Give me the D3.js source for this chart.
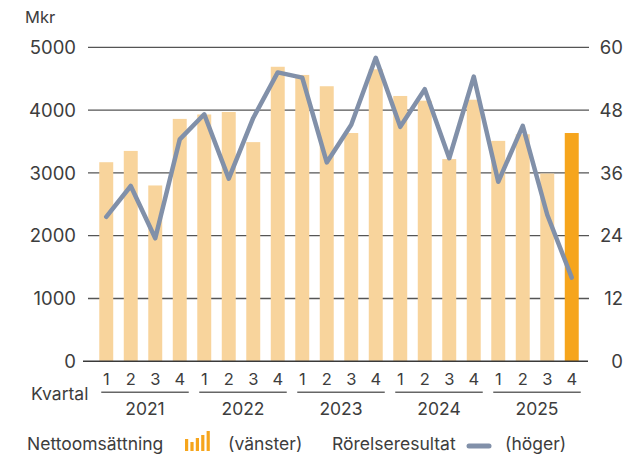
<!DOCTYPE html>
<html>
<head>
<meta charset="utf-8">
<script src="https://cdn.jsdelivr.net/npm/d3@7"></script>
<style>
  body { margin: 0; background: #fff; }
  text { font-family: Inter, "Open Sans", sans-serif; fill: #3d3d3d; }
</style>
</head>
<body>
<svg width="642" height="456"></svg>
<script>
// quarters 2021 Q1 .. 2025 Q4
const years = ["2021", "2022", "2023", "2024", "2025"];
const quarters = ["1", "2", "3", "4"];
// Nettoomsättning, Mkr (left axis)
const netSales = [3170, 3350, 2800, 3860, 3930, 3970, 3490, 4690, 4560, 4380,
                  3635, 4650, 4225, 4150, 3220, 4165, 3510, 3615, 2990, 3635];
// Rörelseresultat (right axis)
const opResult = [27.6, 33.5, 23.5, 42.4, 47.2, 34.9, 46.5, 55.2, 54.2, 38.0,
                  45.2, 58.0, 44.8, 52.0, 38.8, 54.4, 34.3, 45.0, 28.0, 16.0];
const leftTicks = [0, 1000, 2000, 3000, 4000, 5000];
const rightTicks = [0, 12, 24, 36, 48, 60];

const periods = [];
years.forEach(y => quarters.forEach(q => periods.push(y + "-" + q)));

const svg = d3.select("svg");

const x = d3.scaleBand().domain(periods).range([94, 584])
  .paddingInner(0.43).paddingOuter(0.215);
const yL = d3.scaleLinear().domain([0, 5000]).range([361.3, 47.3]);
const yR = d3.scaleLinear().domain([0, 60]).range([361.3, 47.3]);

// grid lines
svg.append("g").selectAll("line")
  .data(leftTicks.filter(d => d > 0))
  .enter().append("line")
  .attr("x1", 88).attr("x2", 589)
  .attr("y1", d => yL(d)).attr("y2", d => yL(d))
  .attr("stroke", "#555").attr("stroke-width", 1.3);

// left axis labels
svg.append("g").selectAll("text")
  .data(leftTicks).enter().append("text")
  .attr("x", 76).attr("y", d => yL(d))
  .attr("dy", "0.36em")
  .attr("text-anchor", "end")
  .style("font-size", "18.5px")
  .text(d => d);

// right axis labels
svg.append("g").selectAll("text")
  .data(rightTicks).enter().append("text")
  .attr("x", 623).attr("y", d => yR(d))
  .attr("dy", "0.36em")
  .attr("text-anchor", "end")
  .style("font-size", "18.5px")
  .text(d => d);

svg.append("text").attr("x", 25).attr("y", 23)
  .style("font-size", "16.5px").text("Mkr");

// bars
svg.append("g").selectAll("rect")
  .data(netSales).enter().append("rect")
  .attr("x", (d, i) => x(periods[i]))
  .attr("width", x.bandwidth())
  .attr("y", d => yL(d))
  .attr("height", d => yL(0) - yL(d))
  .attr("fill", (d, i) => i === netSales.length - 1 ? "#f6a51c" : "#f8d49c");

// zero line
svg.append("line")
  .attr("x1", 83).attr("x2", 588)
  .attr("y1", yL(0)).attr("y2", yL(0))
  .attr("stroke", "#3a3a3a").attr("stroke-width", 1.5);

// operating result line
const line = d3.line()
  .x((d, i) => x(periods[i]) + x.bandwidth() / 2)
  .y(d => yR(d));

svg.append("path")
  .datum(opResult)
  .attr("d", line)
  .attr("fill", "none")
  .attr("stroke", "#8190a9")
  .attr("stroke-width", 4.5)
  .attr("stroke-linejoin", "round")
  .attr("stroke-linecap", "round");

// quarter labels
svg.append("g").selectAll("text")
  .data(periods).enter().append("text")
  .attr("x", d => x(d) + x.bandwidth() / 2)
  .attr("y", 384.5)
  .attr("text-anchor", "middle")
  .style("font-size", "16.5px")
  .text(d => d.split("-")[1]);

svg.append("text").attr("x", 31).attr("y", 399.5)
  .style("font-size", "17.5px").text("Kvartal");

// year groups
const yearG = svg.append("g").selectAll("g")
  .data(years).enter().append("g");

yearG.append("line")
  .attr("x1", d => x(d + "-1") + x.bandwidth() / 2 - 5)
  .attr("x2", d => x(d + "-4") + x.bandwidth() / 2 + 9)
  .attr("y1", 392.3).attr("y2", 392.3)
  .attr("stroke", "#666").attr("stroke-width", 1.5);

yearG.append("text")
  .attr("x", d => (x(d + "-1") + x(d + "-4") + x.bandwidth()) / 2 + 2)
  .attr("y", 415)
  .attr("text-anchor", "middle")
  .style("font-size", "17.5px")
  .text(d => d);

// legend
const leg = svg.append("g");
leg.append("text").attr("x", 27).attr("y", 450)
  .style("font-size", "17.5px").text("Nettoomsättning");

const iconH = [12, 9, 13, 16, 20];
leg.selectAll("rect.icon")
  .data(iconH).enter().append("rect")
  .attr("class", "icon")
  .attr("x", (d, i) => 185 + i * 5.4)
  .attr("y", d => 451 - d)
  .attr("width", 3.2)
  .attr("height", d => d)
  .attr("fill", "#f6a51c");

leg.append("text").attr("x", 228).attr("y", 450)
  .style("font-size", "17.5px").text("(vänster)");

leg.append("text").attr("x", 332).attr("y", 450)
  .style("font-size", "17.5px").text("Rörelseresultat");

leg.append("line")
  .attr("x1", 469).attr("x2", 489)
  .attr("y1", 446).attr("y2", 446)
  .attr("stroke", "#8190a9").attr("stroke-width", 5)
  .attr("stroke-linecap", "round");

leg.append("text").attr("x", 505).attr("y", 450)
  .style("font-size", "17.5px").text("(höger)");
</script>
</body>
</html>
